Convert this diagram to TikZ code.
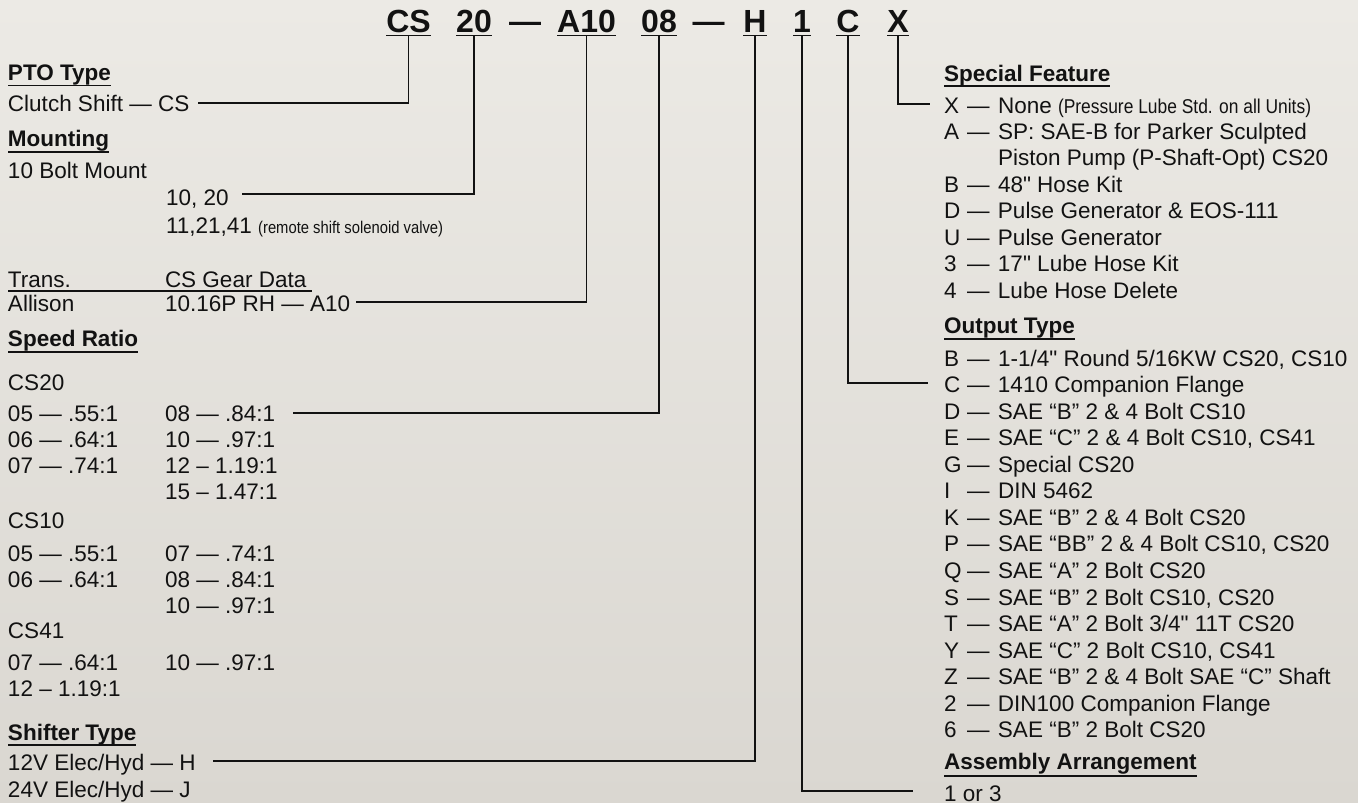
\documentclass[tikz,border=0pt]{standalone}
\usepackage{fontspec}
\setmainfont{Liberation Sans}[Ligatures=TeXOff]
\newfontfamily\condf{Liberation Sans}[FakeStretch=0.87,Ligatures=TeXOff]
\definecolor{ink}{RGB}{18,18,18}
\definecolor{bgtop}{RGB}{236,234,229}
\definecolor{bgbot}{RGB}{218,215,209}
\newcommand{\msz}{\fontsize{22.5}{26}\selectfont}
\newcommand{\csz}{\fontsize{32}{36}\selectfont}
\newcommand{\ritem}[2]{\makebox[23pt][l]{#1}\makebox[31pt][l]{—}#2}
\newcommand{\codeul}[1]{\draw[uline] ([yshift=-3.5pt]#1.base west) -- ([yshift=-3.5pt]#1.base east);}
\newcommand{\hdul}[2]{\draw[uline] ([yshift=-#2pt]#1.base west) -- ([yshift=-#2pt]#1.base east);}
\begin{document}
\begin{tikzpicture}[x=1pt,y=-1pt,
  txt/.style={anchor=base west, inner sep=0pt, outer sep=0pt, font=\msz, text=ink},
  hd/.style={txt, font=\msz\bfseries},
  code/.style={anchor=base, inner sep=0pt, outer sep=0pt, font=\csz\bfseries, text=ink},
  link/.style={draw=ink, line width=1.4pt},
  uline/.style={draw=ink, line width=1.5pt}]
\shade[top color=bgtop, bottom color=bgbot] (0,0) rectangle (1358,803);
\useasboundingbox (0,0) rectangle (1358,803);

% ---------- code header ----------
\node[code] (cs)  at (408.5,32) {CS};
\node[code] (c20) at (474,32) {20};
\node[code] (d1)  at (525,32) {—};
\node[code] (a10) at (586.5,32) {A10};
\node[code] (c08) at (659,32) {08};
\node[code] (d2)  at (708.5,32) {—};
\node[code] (ch)  at (755,32) {H};
\node[code] (c1)  at (802,32) {1};
\node[code] (cc)  at (848,32) {C};
\node[code] (cx)  at (898,32) {X};
\codeul{cs}\codeul{c20}\codeul{a10}\codeul{c08}\codeul{ch}\codeul{c1}\codeul{cc}\codeul{cx}

% ---------- left column ----------
\node[hd]  (ptoh)   at (8,80)  {PTO Type};
\hdul{ptoh}{5.5}
\node[txt] (clutch) at (8,111) {Clutch Shift — CS};
\node[hd]  (mounth) at (8,146) {Mounting};
\hdul{mounth}{6}
\node[txt] (bolt)   at (8,178) {10 Bolt Mount};
\node[txt] (m1020)  at (166,205) {10, 20};
\node[txt] (m1121)  at (166,233) {11,21,41 {\condf\fontsize{17}{20}\selectfont (remote shift solenoid valve)}};

\node[txt] (trans)  at (8,287) {Trans.};
\node[txt] (gear)   at (165,287) {CS Gear Data};
\draw[uline] ([yshift=-4pt]trans.base west) -- ([xshift=6pt,yshift=-4pt]gear.base east);
\node[txt] (allison) at (8,311) {Allison};
\node[txt] (a10row)  at (165,311) {10.16P RH — A10};

\node[hd]  (speedh) at (8,346) {Speed Ratio};
\hdul{speedh}{6}
\node[txt] (cs20) at (8,390) {CS20};
\node[txt] (r05a) at (8,421) {05 — .55:1};
\node[txt] (r08)  at (165,421) {08 — .84:1};
\node[txt] (r06a) at (8,447) {06 — .64:1};
\node[txt] (r10a) at (165,447) {10 — .97:1};
\node[txt] (r07a) at (8,473) {07 — .74:1};
\node[txt] (r12a) at (165,473) {12 – 1.19:1};
\node[txt] (r15a) at (165,499) {15 – 1.47:1};

\node[txt] (cs10) at (8,528) {CS10};
\node[txt] (r05b) at (8,561) {05 — .55:1};
\node[txt] (r07b) at (165,561) {07 — .74:1};
\node[txt] (r06b) at (8,587) {06 — .64:1};
\node[txt] (r08b) at (165,587) {08 — .84:1};
\node[txt] (r10b) at (165,613) {10 — .97:1};

\node[txt] (cs41) at (8,638) {CS41};
\node[txt] (r07c) at (8,670) {07 — .64:1};
\node[txt] (r10c) at (165,670) {10 — .97:1};
\node[txt] (r12c) at (8,696) {12 – 1.19:1};

\node[hd]  (shifth) at (8,740) {Shifter Type};
\hdul{shifth}{5}
\node[txt] (h12) at (8,770) {12V Elec/Hyd — H};
\node[txt] (j24) at (8,797) {24V Elec/Hyd — J};

% ---------- right column ----------
\node[hd]  (sfh)    at (944,81) {Special Feature};
\hdul{sfh}{5}
\node[txt] (xrow)   at (944,113) {\ritem{X}{None {\condf\fontsize{20}{24}\selectfont (Pressure Lube Std. on all Units)}}};
\node[txt] (arow)   at (944,139.4) {\ritem{A}{SP: SAE-B for Parker Sculpted}};
\node[txt] (piston) at (998,165.8) {Piston Pump (P-Shaft-Opt) CS20};
\node[txt] (brow)   at (944,192) {\ritem{B}{48" Hose Kit}};
\node[txt] (drow)   at (944,218.6) {\ritem{D}{Pulse Generator \& EOS-111}};
\node[txt] (urow)   at (944,245) {\ritem{U}{Pulse Generator}};
\node[txt] (r3)     at (944,271.4) {\ritem{3}{17" Lube Hose Kit}};
\node[txt] (r4)     at (944,298) {\ritem{4}{Lube Hose Delete}};

\node[hd]  (outh) at (944,333) {Output Type};
\hdul{outh}{6}
\node[txt] (ob) at (944,366)   {\ritem{B}{1-1/4" Round 5/16KW CS20, CS10}};
\node[txt] (oc) at (944,392.5) {\ritem{C}{1410 Companion Flange}};
\node[txt] (od) at (944,419)   {\ritem{D}{SAE “B” 2 \& 4 Bolt CS10}};
\node[txt] (oe) at (944,445.6) {\ritem{E}{SAE “C” 2 \& 4 Bolt CS10, CS41}};
\node[txt] (og) at (944,472)   {\ritem{G}{Special CS20}};
\node[txt] (oi) at (944,498.7) {\ritem{I}{DIN 5462}};
\node[txt] (ok) at (944,525)   {\ritem{K}{SAE “B” 2 \& 4 Bolt CS20}};
\node[txt] (op) at (944,551.8) {\ritem{P}{SAE “BB” 2 \& 4 Bolt CS10, CS20}};
\node[txt] (oq) at (944,578)   {\ritem{Q}{SAE “A” 2 Bolt CS20}};
\node[txt] (os) at (944,605)   {\ritem{S}{SAE “B” 2 Bolt CS10, CS20}};
\node[txt] (ot) at (944,631)   {\ritem{T}{SAE “A” 2 Bolt 3/4" 11T CS20}};
\node[txt] (oy) at (944,658)   {\ritem{Y}{SAE “C” 2 Bolt CS10, CS41}};
\node[txt] (oz) at (944,684.5) {\ritem{Z}{SAE “B” 2 \& 4 Bolt SAE “C” Shaft}};
\node[txt] (o2) at (944,711)   {\ritem{2}{DIN100 Companion Flange}};
\node[txt] (o6) at (944,737.6) {\ritem{6}{SAE “B” 2 Bolt CS20}};

\node[hd]  (asmh) at (944,769) {Assembly Arrangement};
\hdul{asmh}{7}
\node[txt] (one3) at (944,801) {1 or 3};

% ---------- connectors ----------
\draw[link] ([yshift=-3.5pt]cs.base)  |- ([xshift=9pt,yshift=8pt]clutch.base east);
\draw[link] ([yshift=-3.5pt]c20.base) |- ([xshift=13pt,yshift=11pt]m1020.base east);
\draw[link] ([yshift=-3.5pt]a10.base) |- ([xshift=6pt,yshift=9pt]a10row.base east);
\draw[link] ([yshift=-3.5pt]c08.base) |- ([xshift=18pt,yshift=8pt]r08.base east);
\draw[link] ([yshift=-3.5pt]ch.base)  |- ([xshift=17pt,yshift=9pt]h12.base east);
\draw[link] ([yshift=-3.5pt]c1.base)  |- ([xshift=-31pt,yshift=10pt]one3.base west);
\draw[link] ([yshift=-3.5pt]cc.base)  |- ([xshift=-16pt,yshift=9.5pt]oc.base west);
\draw[link] ([yshift=-3.5pt]cx.base)  |- ([xshift=-14pt,yshift=9pt]xrow.base west);
\end{tikzpicture}
\end{document}
